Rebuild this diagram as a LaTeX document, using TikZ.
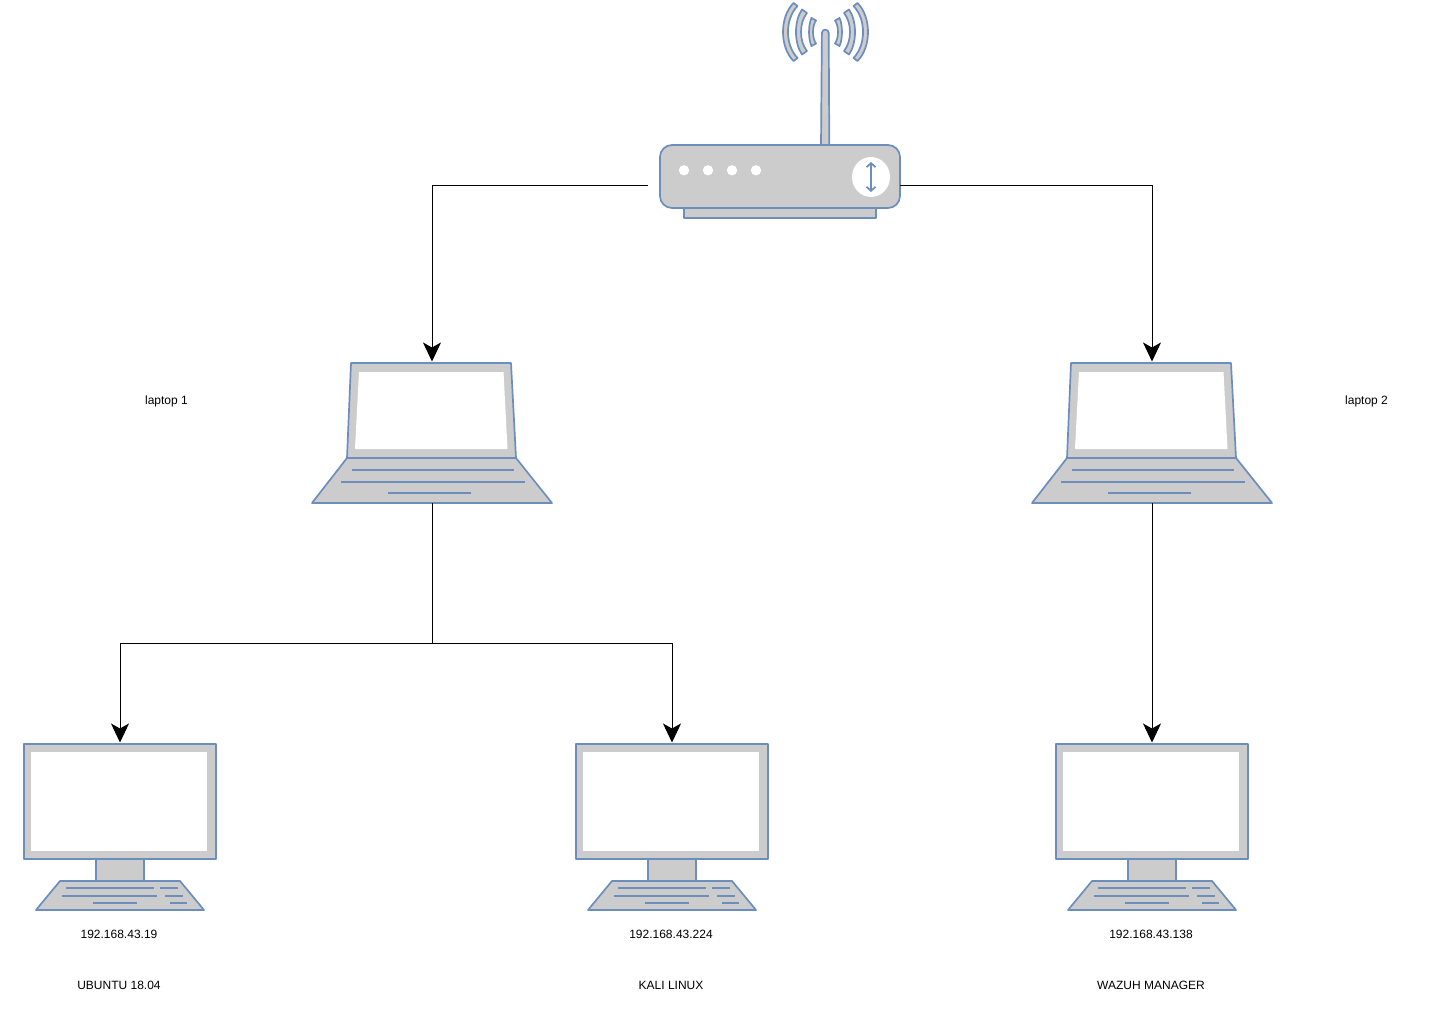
\documentclass[tikz,border=0pt]{standalone}
\usepackage{fontspec}
\setmainfont{Liberation Sans}
\usetikzlibrary{arrows.meta}
\definecolor{iconblue}{HTML}{6C8EBF}
\definecolor{icongray}{HTML}{CCCCCC}
\tikzset{
  icon/.style={draw=iconblue, fill=icongray, line width=1.7pt, line join=round},
  iconline/.style={draw=iconblue, line width=1.7pt},
  screen/.style={fill=white, draw=none},
  link/.style={draw=black, line width=0.9pt, shorten >=1.5pt, -{Stealth[length=19pt,width=18pt,inset=5pt]}},
  plainlink/.style={draw=black, line width=0.9pt},
  hostbox/.style={inner sep=0pt, outer sep=0pt, minimum width=#1},
  label/.style={inner sep=0pt, font=\fontsize{12}{14}\selectfont},
  router/.pic={
    \draw[icon] (47,36) -- (47.9,-76) arc[start angle=180, end angle=360, radius=3.4] -- (55.3,36) -- cycle;
    \foreach \s in {-1,1} {
      \begin{scope}[shift={(51.5,-77)}, xscale=\s]
        \foreach \ex/\ey/\hy/\cx/\ix/\iy/\jy/\jx in {32/29/15/46/28/26/13/40.7, 23.5/22.5/11/31.5/18.5/19/9.5/26.5, 14/14/7/17.3/9.5/11.5/6/13.5} {
          \draw[icon] (-\ex,-\ey) .. controls (-\cx,-\hy) and (-\cx,\hy) .. (-\ex,\ey) -- (-\ix,\iy) .. controls (-\jx,\jy) and (-\jx,-\jy) .. (-\ix,-\iy) -- cycle;
        }
      \end{scope}
    }
    \draw[icon] (-90,99) rectangle (102,109);
    \draw[icon, rounded corners=12pt] (-114,36) rectangle (126,99);
    \foreach \x in {-90,-66,-42,-18} {\fill[white] (\x,61.3) circle[radius=5.2];}
    \fill[white] (97,68) ellipse[x radius=19, y radius=20];
    \draw[iconline, {Straight Barb[length=4pt,width=9pt]}-{Straight Barb[length=4pt,width=9pt]}] (97,53) -- (97,83);
  },
  laptop/.pic={
    \draw[icon] (-81,-70) -- (79,-70) -- (84,25) -- (-85,25) -- cycle;
    \fill[screen] (-73,-61) -- (71.5,-61) -- (75.5,16) -- (-77,16) -- cycle;
    \draw[icon] (-85,25) -- (84,25) -- (120,70) -- (-120,70) -- cycle;
    \draw[iconline] (-80,37) -- (82,37);
    \draw[iconline] (-91,49) -- (93,49);
    \draw[iconline] (-44,60) -- (39,60);
  },
  desktop/.pic={
    \draw[icon] (-24,32) rectangle (24,54);
    \draw[icon] (-96,-83) rectangle (96,32);
    \fill[screen] (-89,-75) rectangle (87,24);
    \draw[icon] (-60,54) -- (60,54) -- (84,83) -- (-84,83) -- cycle;
    \draw[iconline] (-54,61) -- (34,61);
    \draw[iconline] (40,61) -- (58,61);
    \draw[iconline] (-58,69) -- (37,69);
    \draw[iconline] (45,69) -- (63,69);
    \draw[iconline] (-27,76) -- (17,76);
    \draw[iconline] (50,76) -- (67,76);
  }
}
\begin{document}
\begin{tikzpicture}[x=1pt, y=-1pt]
\useasboundingbox (0,0) rectangle (1440,1024);

\node[hostbox=252, minimum height=218] (router) at (774,109) {};
\pic at (router) {router};
\node[hostbox=240, minimum height=140] (laptopa) at (432,433) {};
\pic at (laptopa) {laptop};
\node[hostbox=240, minimum height=140] (laptopb) at (1152,433) {};
\pic at (laptopb) {laptop};
\node[hostbox=192, minimum height=166] (hosta) at (120,827) {};
\pic at (hosta) {desktop};
\node[hostbox=192, minimum height=166] (hostb) at (672,827) {};
\pic at (hostb) {desktop};
\node[hostbox=192, minimum height=166] (hostc) at (1152,827) {};
\pic at (hostc) {desktop};

\coordinate (routerl) at (648,185.5);
\coordinate (routerr) at (900,185.5);
\coordinate (split) at (432,643);

\draw[link] (routerl) -| (laptopa.north);
\draw[link] (routerr) -| (laptopb.north);
\draw[plainlink] (laptopa.south) -- (split);
\draw[link] (split) -| (hosta.north);
\draw[link] (split) -| (hostb.north);
\draw[link] (laptopb.south) -- (hostc.north);

\node[label] (namea) at (166.5,401) {laptop 1};
\node[label] (nameb) at (1366.5,401) {laptop 2};
\node[label] (ipa) at (119,934.3) {192.168.43.19};
\node[label] (ipb) at (671,934.3) {192.168.43.224};
\node[label] (ipc) at (1151,934.3) {192.168.43.138};
\node[label] (osa) at (119,985.3) {UBUNTU 18.04};
\node[label] (osb) at (671,985.3) {KALI LINUX};
\node[label] (osc) at (1151,985.3) {WAZUH MANAGER};
\end{tikzpicture}
\end{document}
